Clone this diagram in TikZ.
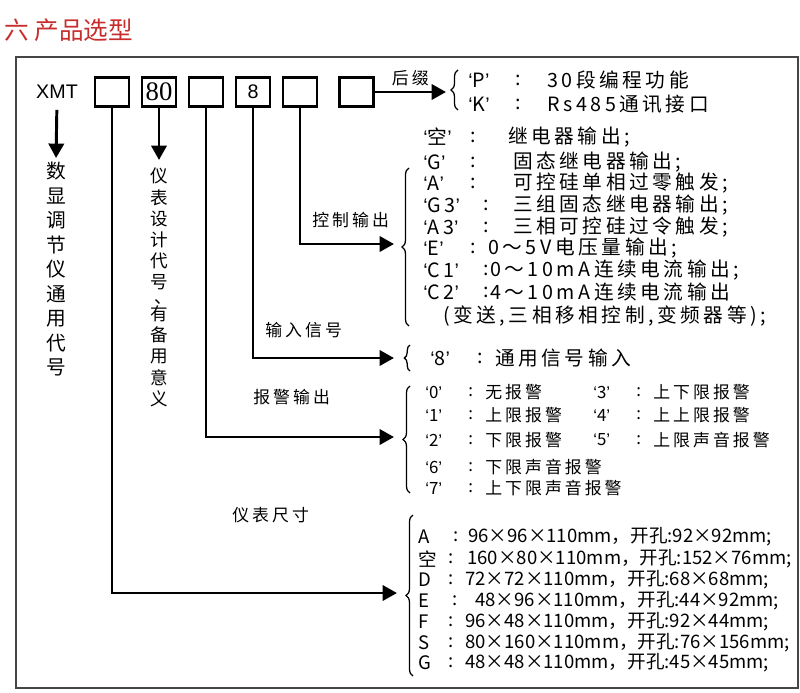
\documentclass[tikz,border=0pt]{standalone}
\usepackage{fontspec}
\setmainfont{Liberation Sans}
\newfontfamily\serifnum{Liberation Serif}
\newfontfamily\cjk{Noto Sans CJK SC}
\newfontfamily\cjkw[LetterSpace=18]{Noto Sans CJK SC}
\usetikzlibrary{arrows.meta,decorations.pathreplacing,positioning}
\definecolor{titlered}{RGB}{200,45,45}
\definecolor{framegray}{RGB}{70,70,70}
\newcommand{\qt}[1]{{\normalfont ‘}#1{\normalfont ’}}

\begin{document}
\begin{tikzpicture}[x=0.025cm,y=-0.025cm,
  codebox/.style={draw, line width=2.1pt, minimum width=0.85cm, minimum height=0.72cm, inner sep=0pt},
  conn/.style={line width=2.1pt, -{Triangle[length=3.6mm,width=3.8mm]}},
  brc/.style={decorate, decoration={brace, amplitude=5pt}, line width=0.9pt},
  lbl/.style={font=\cjkw\fontsize{12}{12}\selectfont, inner sep=0pt},
  bigtxt/.style={font=\cjkw\fontsize{14}{14}\selectfont, anchor=west, inner sep=0pt},
  smtxt/.style={font=\cjkw\fontsize{12}{12}\selectfont, anchor=west, inner sep=0pt},
  sztxt/.style={font=\cjk\fontsize{13.2}{13.2}\selectfont, anchor=west, inner sep=0pt}]

  \useasboundingbox (0,0) rectangle (800,692);

  % Title and frame
  \node[font=\cjk\fontsize{17.5}{17.5}\selectfont, text=titlered, anchor=west, inner sep=0pt] (title) at (4,30) {六 产品选型};
  \draw[line width=1.4pt, framegray] (16,57) rectangle (798,688);

  % Model code: XMT and the 6 boxes
  \node[font=\fontsize{14}{14}\selectfont, inner sep=0pt] (xmt) at (57,92) {XMT};
  \foreach \i in {1,...,5}
    \node[codebox] (b\i) at ({112+47*(\i-1)},92) {};
  \node[codebox, right=0.48cm of b5] (b6) {};
  \node[font=\serifnum\fontsize{19}{19}\selectfont, inner sep=0pt] (n80) at (b2) {80};
  \node[font=\fontsize{14}{14}\selectfont, inner sep=0pt] (n8) at (b4) {8};

  % Vertical descriptions
  \node[font=\cjk\fontsize{14}{17.4}\selectfont, align=center, inner sep=0pt, anchor=north] (codetxt) at (56,162)
    {数\\显\\调\\节\\仪\\通\\用\\代\\号};
  \node[font=\cjk\fontsize{12.5}{15}\selectfont, align=center, inner sep=0pt, anchor=north] (designtxt) at (159,168)
    {仪\\表\\设\\计\\代\\号\\[-4pt]\hspace{6pt}、\\[-3pt]有\\备\\用\\意\\义};
  \draw[conn, shorten <=0.27cm, shorten >=0.1cm] (xmt.south) -- (codetxt.north);
  \draw[conn, shorten >=0.2cm] (b2.south) -- (designtxt.north);

  % Arrow ends at the braces
  \coordinate (sfxin) at (446,92);
  \coordinate (ctlin) at (394,244);
  \coordinate (inpin) at (394,358);
  \coordinate (almin) at (394,437);
  \coordinate (szin) at (397,593);

  \draw[conn] (b6.east) -- (sfxin) node[lbl, midway, above=0.12cm] (sfxlbl) {后缀};
  \draw[conn] (b5.south) |- (ctlin);
  \draw[conn] (b4.south) |- (inpin);
  \draw[conn] (b3.south) |- (almin);
  \draw[conn] (b1.south) |- (szin);

  \node[lbl, anchor=west] (ctllbl) at (312,220) {控制输出};
  \node[lbl, anchor=west] (inplbl) at (265,330) {输入信号};
  \node[lbl, anchor=west] (almlbl) at (253,397) {报警输出};
  \node[lbl, anchor=west] (szlbl) at (232,515) {仪表尺寸};

  % Braces
  \draw[brc] (458,110) -- (458,70);
  \draw[brc] (409,326) -- (409,168);
  \draw[brc, decoration={brace, amplitude=4pt}] (410,371) -- (410,345);
  \draw[brc] (410,493) -- (410,386);
  \draw[brc] (413,676) -- (413,515);

  % Suffix
  \foreach \n/\y/\k/\t in {p/80/P/30段编程功能, k/104/K/Rs485通讯接口} {
    \node[bigtxt] (sk\n) at (468,\y) {\qt{\k}};
    \node[bigtxt] (sc\n) at (515,\y) {:};
    \node[bigtxt] (st\n) at (547,\y) {\t};
  }

  % Control output
  \foreach \n/\y/\k/\cx/\tx/\t in {
    1/137/空/470/508/{继电器输出;},
    2/162/G/470/513/{固态继电器输出;},
    3/183/A/470/513/{可控硅单相过零触发;},
    4/205/G3/483/513/{三组固态继电器输出;},
    5/227/A3/483/513/{三相可控硅过令触发;},
    6/248/E/470/488/{0～5V电压量输出;},
    7/270/C1/483/490/{0～10mA连续电流输出;},
    8/292/C2/483/490/{4～10mA连续电流输出}} {
    \node[bigtxt] (ck\n) at (423,\y) {\qt{\k}};
    \node[bigtxt] (cc\n) at (\cx,\y) {:};
    \node[bigtxt] (ct\n) at (\tx,\y) {\t};
  }
  \node[bigtxt] (ct9) at (443,316) {(变送,三相移相控制,变频器等);};

  % Input signal
  \node[bigtxt] (ik) at (430,358) {\qt{8}};
  \node[bigtxt] (ic) at (477,358) {:};
  \node[bigtxt] (it) at (495,358) {通用信号输入};

  % Alarm output
  \foreach \n/\x/\y/\t in {0/425/392/无报警, 1/425/415/上限报警, 2/425/440/下限报警,
      6/425/467/下限声音报警, 7/425/488/上下限声音报警,
      3/593/392/上下限报警, 4/593/415/上上限报警, 5/593/440/上限声音报警} {
    \node[smtxt] (ak\n) at (\x,\y) {\qt{\n}};
    \node[smtxt] (ac\n) at (\x+43,\y) {:};
    \node[smtxt] (at\n) at (\x+60,\y) {\t};
  }

  % Size
  \foreach \n/\y/\k/\cx/\tx/\t in {
    a/537/A/453/468/{96×96×110mm，开孔:92×92mm;},
    k/559/空/448/467/{160×80×110mm，开孔:152×76mm;},
    d/580/D/448/465/{72×72×110mm，开孔:68×68mm;},
    e/601/E/452/475/{48×96×110mm，开孔:44×92mm;},
    f/622/F/448/465/{96×48×110mm，开孔:92×44mm;},
    s/643/S/448/465/{80×160×110mm，开孔:76×156mm;},
    g/663/G/448/465/{48×48×110mm，开孔:45×45mm;}} {
    \node[sztxt] (zk\n) at (418,\y) {\k};
    \node[sztxt] (zc\n) at (\cx,\y) {:};
    \node[sztxt] (zt\n) at (\tx,\y) {\t};
  }
\end{tikzpicture}
\end{document}
